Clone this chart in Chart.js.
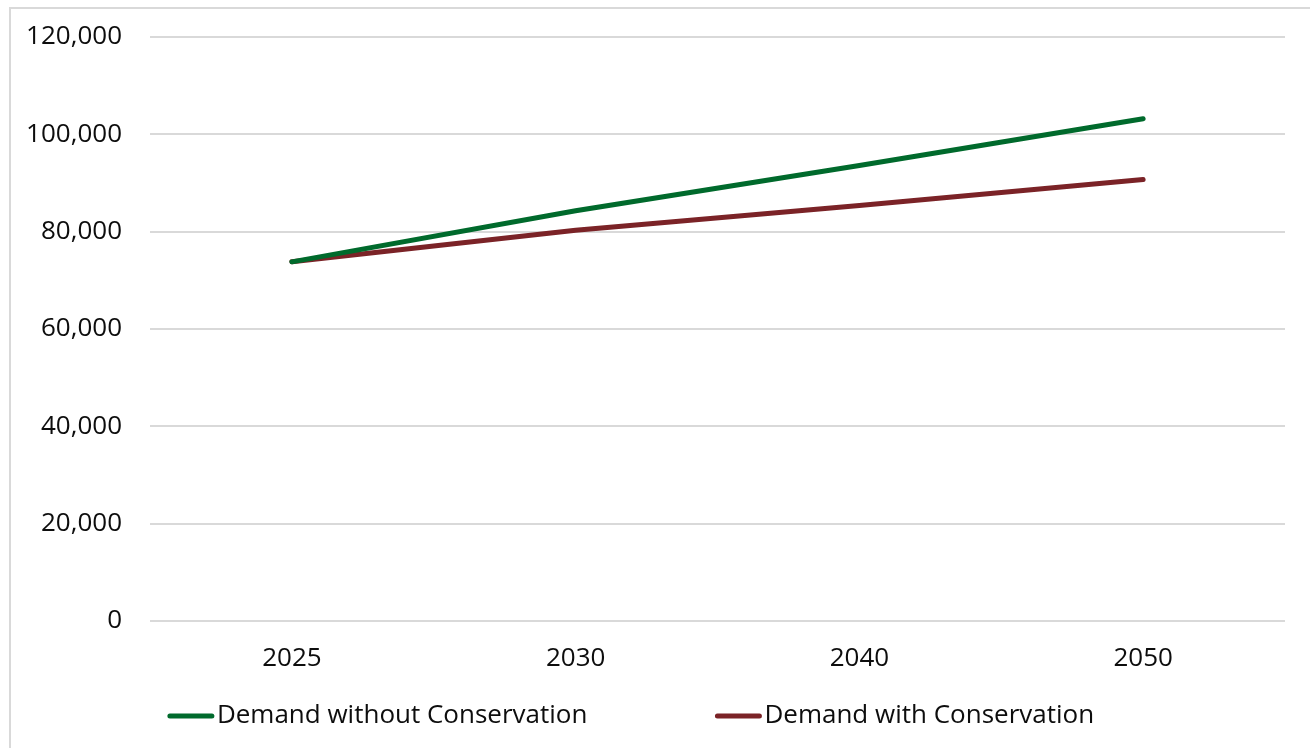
<!DOCTYPE html>
<html>
<head>
<meta charset="utf-8">
<title>Demand Projections</title>
<script src="https://cdn.jsdelivr.net/npm/chart.js@4/dist/chart.umd.min.js"></script>
<style>
  html, body { margin: 0; padding: 0; background: #ffffff; }
  #wrap { width: 1310px; height: 748px; }
</style>
</head>
<body>
<div id="wrap"><canvas id="demandChart" width="1310" height="748"></canvas></div>
<script>
// Projection years
const years = ['2025', '2030', '2040', '2050'];

// Demand series
const demandWithoutConservation = [73800, 84300, 93600, 103200];
const demandWithConservation = [73800, 80300, 85400, 90700];

// Series labels and colours
const seriesLabels = ['Demand without Conservation', 'Demand with Conservation'];
const seriesColors = ['#006a2c', '#7b2327'];

// Value axis ticks
const yTicks = [0, 20000, 40000, 60000, 80000, 100000, 120000];

const FONT_FAMILY = '"Open Sans", "Liberation Sans", sans-serif';
const TEXT_COLOR = '#0d0d0d';
const GRID_COLOR = '#d9d9d9';

// Light frame around the chart and white background
const framePlugin = {
  id: 'frame',
  beforeDraw(chart) {
    const ctx = chart.ctx;
    ctx.save();
    ctx.fillStyle = '#ffffff';
    ctx.fillRect(0, 0, chart.width, chart.height);
    ctx.strokeStyle = GRID_COLOR;
    ctx.lineWidth = 2;
    ctx.strokeRect(10, 8, chart.width + 20, chart.height + 20);
    ctx.restore();
  }
};

// Legend drawn under the axis with short line samples
const lineLegendPlugin = {
  id: 'lineLegend',
  afterDraw(chart, args, opts) {
    const ctx = chart.ctx;
    const sets = chart.data.datasets;
    ctx.save();
    ctx.font = opts.fontSize + 'px ' + FONT_FAMILY;
    ctx.textBaseline = 'middle';
    const items = sets.map(ds => ({
      ds,
      w: opts.sampleLength + opts.sampleGap + ctx.measureText(ds.label).width
    }));
    const total = items.reduce((s, it) => s + it.w, 0) + opts.itemGap * (items.length - 1);
    let x = opts.centerX - total / 2;
    const y = opts.centerY;
    items.forEach(it => {
      ctx.strokeStyle = it.ds.borderColor;
      ctx.lineWidth = it.ds.borderWidth;
      ctx.lineCap = 'round';
      ctx.beginPath();
      ctx.moveTo(x + 2, y);
      ctx.lineTo(x + opts.sampleLength - 2, y);
      ctx.stroke();
      ctx.fillStyle = TEXT_COLOR;
      ctx.fillText(it.ds.label, x + opts.sampleLength + opts.sampleGap, y);
      x += it.w + opts.itemGap;
    });
    ctx.restore();
  }
};

const valueFormat = v => Number(v).toLocaleString('en-US');

new Chart(document.getElementById('demandChart'), {
  type: 'line',
  data: {
    labels: years,
    datasets: [
      {
        label: seriesLabels[0],
        data: demandWithoutConservation,
        borderColor: seriesColors[0],
        backgroundColor: seriesColors[0],
        borderWidth: 5,
        borderCapStyle: 'round',
        borderJoinStyle: 'round',
        pointRadius: 0,
        tension: 0,
        fill: false
      },
      {
        label: seriesLabels[1],
        data: demandWithConservation,
        borderColor: seriesColors[1],
        backgroundColor: seriesColors[1],
        borderWidth: 5,
        borderCapStyle: 'round',
        borderJoinStyle: 'round',
        pointRadius: 0,
        tension: 0,
        fill: false
      }
    ]
  },
  options: {
    responsive: false,
    devicePixelRatio: 1,
    animation: false,
    layout: { padding: { top: 37, right: 25, bottom: 0, left: 0 } },
    plugins: {
      legend: { display: false },
      tooltip: { enabled: false },
      lineLegend: {
        fontSize: 26,
        sampleLength: 46,
        sampleGap: 3,
        itemGap: 128,
        centerX: 631,
        centerY: 716
      }
    },
    scales: {
      x: {
        type: 'category',
        offset: true,
        grid: { display: false, drawTicks: false },
        border: { display: false },
        ticks: {
          color: TEXT_COLOR,
          padding: 22,
          font: { family: FONT_FAMILY, size: 26 },
          maxRotation: 0
        },
        afterFit(scale) { scale.height = 127; }
      },
      y: {
        min: 0,
        max: 120000,
        afterBuildTicks(scale) { scale.ticks = yTicks.map(v => ({ value: v })); },
        grid: {
          color: GRID_COLOR,
          lineWidth: 2,
          drawTicks: true,
          tickLength: 28,
          tickColor: 'rgba(0,0,0,0)'
        },
        border: { display: false },
        ticks: {
          color: TEXT_COLOR,
          padding: 0,
          font: { family: FONT_FAMILY, size: 26 },
          callback: valueFormat
        },
        afterFit(scale) { scale.width = 150; }
      }
    }
  },
  plugins: [framePlugin, lineLegendPlugin]
});
</script>
</body>
</html>
